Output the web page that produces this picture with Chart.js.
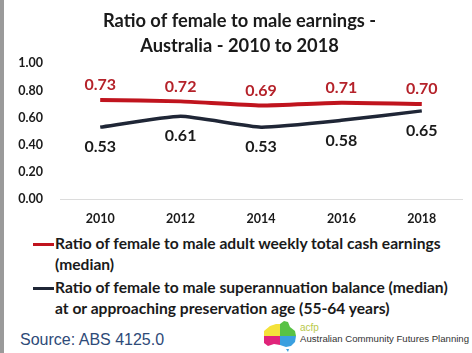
<!DOCTYPE html>
<html>
<head>
<meta charset="utf-8">
<script src="https://cdn.jsdelivr.net/npm/chart.js@4.4.0/dist/chart.umd.min.js"></script>
<style>
    html, body { margin: 0; padding: 0; background: #fff; }
    body { width: 472px; height: 353px; position: relative; overflow: hidden; font-family: Lato, "Open Sans", sans-serif; }
    #leftEdge { position: absolute; left: 0; top: 0; width: 4px; height: 353px; background: #9a9a9a; }
    #chartBox { position: absolute; left: 4px; top: 0; width: 468px; height: 232px; }
    .legendRow { position: absolute; left: 33px; font-weight: bold; font-size: 15.6px; color: #1a1a1a; line-height: 21px; white-space: nowrap; }
    .legendRow .swatch { position: absolute; left: 0; top: 10px; width: 21px; height: 3px; }
    .legendRow .txt { margin-left: 22px; }
    #source { position: absolute; left: 20px; top: 331px; font-family: "Liberation Sans", Arial, sans-serif; font-size: 16px; color: #2e4a78; white-space: nowrap; }
    #acfp { position: absolute; left: 300px; top: 323px; font-family: "Liberation Sans", Arial, sans-serif; white-space: nowrap; }
    #acfp .small { font-size: 10px; color: #b9c94a; line-height: 10px; }
    #acfp .name { font-size: 9.6px; color: #333; line-height: 12px; }
    #logo { position: absolute; left: 262px; top: 319px; }
</style>
</head>
<body>
<div id="leftEdge"></div>
<div id="chartBox"><canvas id="earningsChart" width="468" height="232"></canvas></div>

<div class="legendRow" style="top: 233px;"><span class="swatch" style="background:#c0141e"></span><div class="txt">Ratio of female to male adult weekly total cash earnings<br>(median)</div></div>
<div class="legendRow" style="top: 277px;"><span class="swatch" style="background:#1f2636"></span><div class="txt">Ratio of female to male superannuation balance (median)<br>at or approaching preservation age (55-64 years)</div></div>

<div id="source">Source: ABS 4125.0</div>
<svg id="logo" width="36" height="34" viewBox="0 0 36 34">
    <polygon points="2,12 8,7 14,5 18,5 18,17 2,17" fill="#f4e23a"/>
    <polygon points="18,5 22,2 26,3 28,8 33,12 34,17 18,17" fill="#58c245"/>
    <polygon points="2,17 18,17 18,26 12,25 6,27 2,24" fill="#e0247a"/>
    <polygon points="18,17 34,17 33,23 29,27 24,28 18,26" fill="#3aa0e0"/>
    <polygon points="24,30 27,30 26,33" fill="#3aa0e0"/>
</svg>
<div id="acfp"><div class="small">acfp</div><div class="name">Australian Community Futures Planning</div></div>

<script>
var years = ["2010", "2012", "2014", "2016", "2018"];
var cashEarningsRatio = [0.73, 0.72, 0.69, 0.71, 0.70];
var superBalanceRatio = [0.53, 0.61, 0.53, 0.58, 0.65];
var yTickValues = [0, 0.2, 0.4, 0.6, 0.8, 1.0];

// draws the value labels above (red) or below (dark) each point
var valueLabelPlugin = {
    id: "valueLabels",
    afterDatasetsDraw: function (chart) {
        var ctx = chart.ctx;
        ctx.save();
        ctx.font = "bold 16px Lato, 'Open Sans', sans-serif";
        ctx.textAlign = "center";
        ctx.textBaseline = "middle";
        chart.data.datasets.forEach(function (ds, i) {
            var meta = chart.getDatasetMeta(i);
            meta.data.forEach(function (pt, j) {
                ctx.fillStyle = ds.labelColor;
                ctx.fillText(ds.data[j].toFixed(2), pt.x, pt.y + ds.labelOffset);
            });
        });
        ctx.restore();
    }
};

var ctx = document.getElementById("earningsChart").getContext("2d");
var mainChartObject = new Chart(ctx, {
    type: "line",
    data: {
        labels: years,
        datasets: [
            {
                label: "Ratio of female to male adult weekly total cash earnings (median)",
                data: cashEarningsRatio,
                borderColor: "#c0141e",
                borderWidth: 4,
                pointRadius: 0,
                tension: 0.15,
                fill: false,
                labelColor: "#b5222a",
                labelOffset: -15
            },
            {
                label: "Ratio of female to male superannuation balance (median) at or approaching preservation age (55-64 years)",
                data: superBalanceRatio,
                borderColor: "#1f2636",
                borderWidth: 3.5,
                pointRadius: 0,
                tension: 0.15,
                fill: false,
                labelColor: "#1a1a1a",
                labelOffset: 20
            }
        ]
    },
    options: {
        responsive: false,
        animation: false,
        layout: { padding: { left: 13, right: 10, top: 0, bottom: 0 } },
        plugins: {
            legend: { display: false },
            tooltip: { enabled: false },
            title: {
                display: true,
                text: ["Ratio of female to male earnings -", "Australia - 2010 to 2018"],
                color: "#1a1a1a",
                font: { family: "Lato, 'Open Sans', sans-serif", size: 18.3, weight: "bold", lineHeight: 1.35 },
                padding: { top: 9, bottom: 5 }
            }
        },
        scales: {
            x: {
                offset: true,
                afterFit: function (scale) { scale.height = 33; },
                grid: { display: false, drawTicks: false },
                border: { display: true, color: "#dcdcdc", width: 1 },
                ticks: {
                    color: "#1a1a1a",
                    padding: 12,
                    font: { family: "Lato, 'Open Sans', sans-serif", size: 12.5, weight: "bold" }
                }
            },
            y: {
                min: 0,
                max: 1,
                afterBuildTicks: function (scale) {
                    scale.ticks = yTickValues.map(function (v) { return { value: v }; });
                },
                afterFit: function (scale) { scale.width = 43; },
                grid: { display: false, drawTicks: false },
                border: { display: false },
                ticks: {
                    color: "#1a1a1a",
                    padding: 17,
                    font: { family: "Lato, 'Open Sans', sans-serif", size: 12.5, weight: "bold" },
                    callback: function (v) { return Number(v).toFixed(2); }
                }
            }
        }
    },
    plugins: [valueLabelPlugin]
});
</script>
</body>
</html>
